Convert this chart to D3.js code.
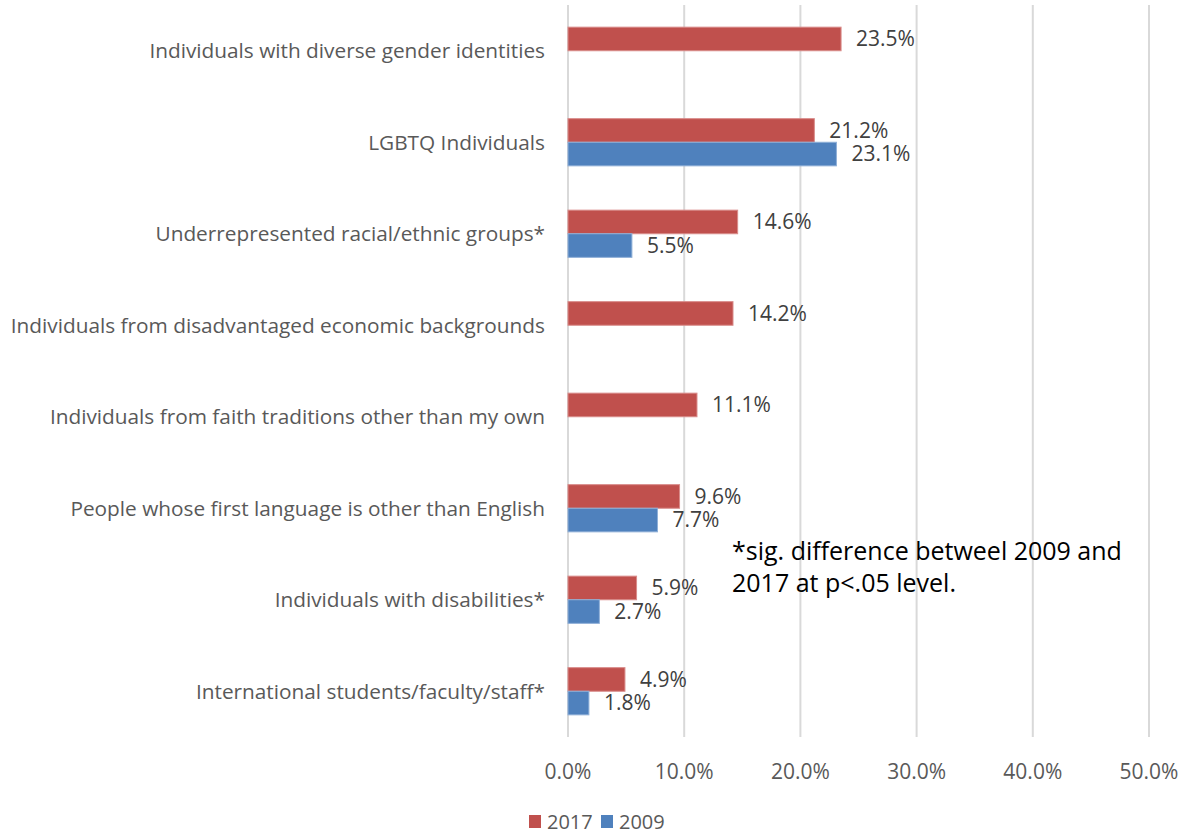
<!DOCTYPE html>
<html><head><meta charset="utf-8">
<script src="https://cdn.jsdelivr.net/npm/d3@7"></script>
<style>body{margin:0;background:#fff;} svg{display:block;} text{font-family:"Open Sans",sans-serif;}</style>
</head><body>
<svg id="c" width="1187" height="834"></svg>
<script>
const categories = [
  "Individuals with diverse gender identities",
  "LGBTQ Individuals",
  "Underrepresented racial/ethnic groups*",
  "Individuals from disadvantaged economic backgrounds",
  "Individuals from faith traditions other than my own",
  "People whose first language is other than English",
  "Individuals with disabilities*",
  "International students/faculty/staff*"
];
const seriesNames = ["2017", "2009"];
const values2017 = [23.5, 21.2, 14.6, 14.2, 11.1, 9.6, 5.9, 4.9];
const values2009 = [null, 23.1, 5.5, null, null, 7.7, 2.7, 1.8];
const xTicks = [0, 10, 20, 30, 40, 50];
const note = ["*sig. difference betweel 2009 and", "2017 at p<.05 level."];
const colors = {"2017": "#C0504D", "2009": "#4F81BD"};
const strokes = {"2017": "#D98C8A", "2009": "#8FB0D8"};

const svg = d3.select("#c");
const x = d3.scaleLinear().domain([0, 50]).range([568, 1149]);
const y = d3.scaleBand().domain(categories).range([5, 737]);
const inner = d3.scaleBand().domain(seriesNames).range([0, 47.2]);

// gridlines
svg.append("g").selectAll("line").data(xTicks).join("line")
  .attr("x1", d => x(d)).attr("x2", d => x(d))
  .attr("y1", 5).attr("y2", 737)
  .attr("stroke", "#D9D9D9").attr("stroke-width", 2);

const rows = categories.map((c, i) => ({cat: c, vals: [
  {s: "2017", v: values2017[i]}, {s: "2009", v: values2009[i]}]}));

const g = svg.append("g").selectAll("g").data(rows).join("g")
  .attr("transform", d => `translate(0,${y(d.cat) + y.bandwidth()/2 - 23.6})`);

g.selectAll("rect").data(d => d.vals.filter(e => e.v !== null)).join("rect")
  .attr("x", x(0)).attr("y", d => inner(d.s))
  .attr("width", d => x(d.v) - x(0)).attr("height", inner.bandwidth())
  .attr("fill", d => colors[d.s]).attr("stroke", d => strokes[d.s]).attr("stroke-width", 1);

g.selectAll("text.v").data(d => d.vals.filter(e => e.v !== null)).join("text")
  .attr("class", "v")
  .attr("x", d => x(d.v) + 15).attr("y", d => inner(d.s) + inner.bandwidth()/2)
  .attr("dy", "0.35em").attr("fill", "#404040").attr("font-size", 21)
  .text(d => d.v.toFixed(1) + "%");

// category labels
svg.append("g").selectAll("text").data(categories).join("text")
  .attr("x", 545).attr("y", d => y(d) + y.bandwidth()/2)
  .attr("dy", "0.35em").attr("text-anchor", "end")
  .attr("fill", "#595959").attr("font-size", 20.8).text(d => d);

// x tick labels
svg.append("g").selectAll("text").data(xTicks).join("text")
  .attr("x", d => x(d)).attr("y", 772).attr("dy", "0.35em")
  .attr("text-anchor", "middle").attr("fill", "#595959").attr("font-size", 21)
  .text(d => d.toFixed(1) + "%");

// note
svg.append("g").selectAll("text").data(note).join("text")
  .attr("x", 732).attr("y", (d, i) => 560 + i * 32)
  .attr("fill", "#000").attr("font-size", 25).text(d => d);

// legend
const leg = svg.append("g").selectAll("g").data(seriesNames).join("g")
  .attr("transform", (d, i) => `translate(${529 + i * 72},815)`);
leg.append("rect").attr("width", 12).attr("height", 13).attr("fill", d => colors[d]);
leg.append("text").attr("x", 18).attr("y", 6.5).attr("dy", "0.35em")
  .attr("fill", "#595959").attr("font-size", 20).text(d => d);
</script>
</body></html>
